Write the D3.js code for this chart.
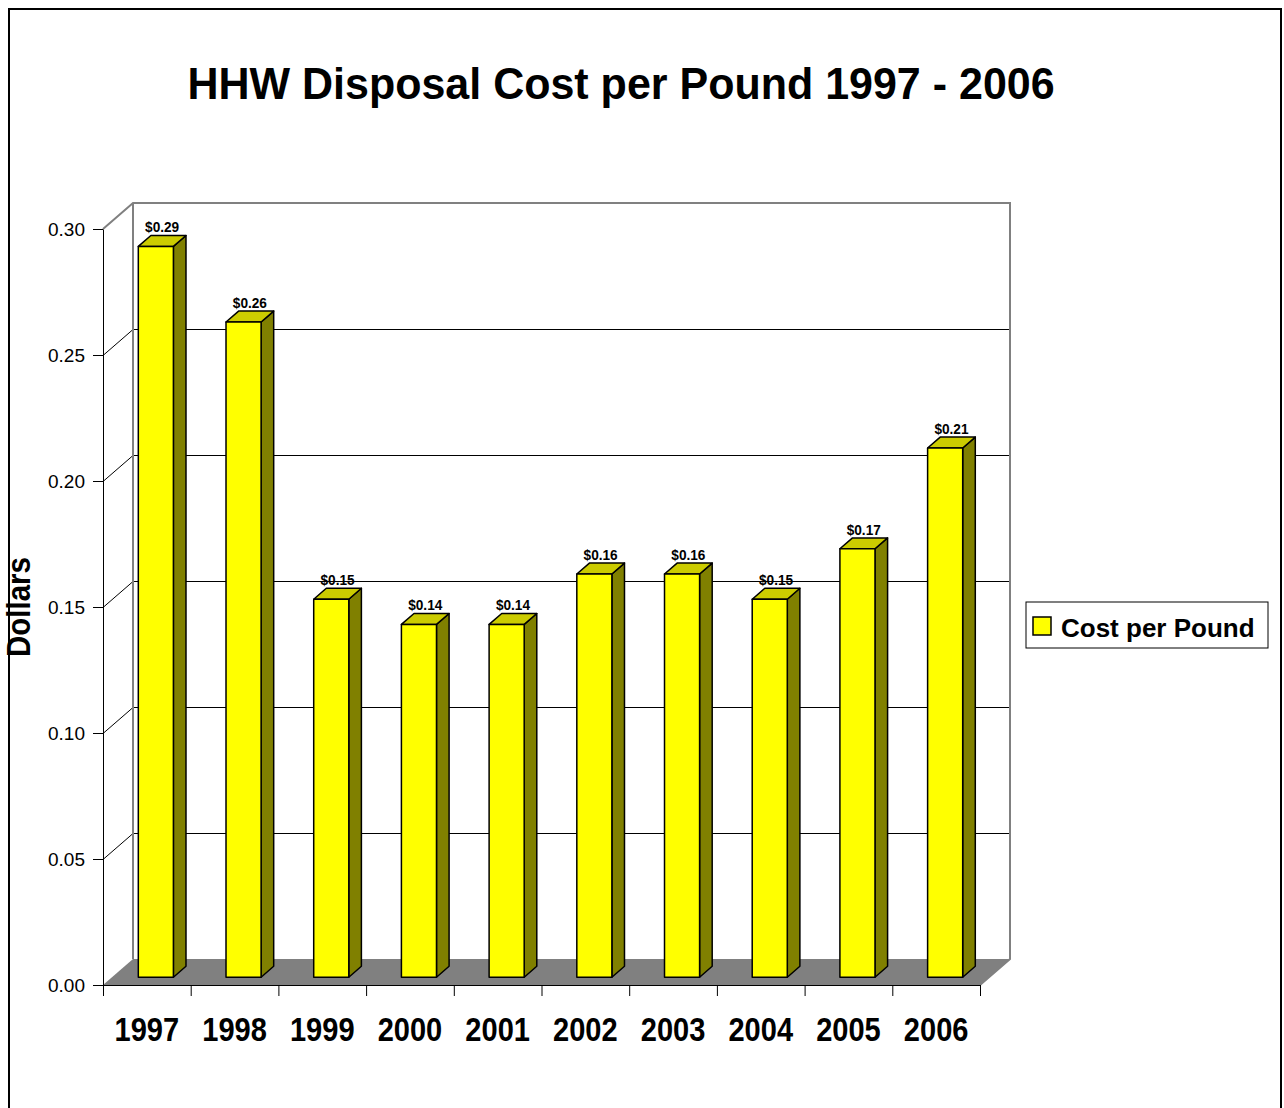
<!DOCTYPE html>
<html>
<head>
<meta charset="utf-8">
<script src="https://cdn.jsdelivr.net/npm/d3@7"></script>
<style>
  body { margin: 0; background: #fff; }
  svg text { font-family: "Liberation Sans", Arial, sans-serif; }
</style>
</head>
<body>
<div id="root"></div>
<script>
const width = 1284;
const height = 1108;

const years = ['1997', '1998', '1999', '2000', '2001', '2002', '2003', '2004', '2005', '2006'];
const costs = [0.29, 0.26, 0.15, 0.14, 0.14, 0.16, 0.16, 0.15, 0.17, 0.21];
const yTicks = [0, 0.05, 0.1, 0.15, 0.2, 0.25, 0.3];

const title = 'HHW Disposal Cost per Pound 1997 - 2006';
const yLabel = 'Dollars';
const seriesName = 'Cost per Pound';

// 3D depth of the plot box
const depth = { dx: 30, dy: -26 };
const barZ0 = 0.3;
const barZ1 = 0.72;

const plot = { left: 103, right: 980, top: 229, bottom: 985 };

const svg = d3
  .select('#root')
  .append('svg')
  .attr('width', width)
  .attr('height', height);

// Chart border
svg
  .append('rect')
  .attr('x', 9)
  .attr('y', 9)
  .attr('width', 1272)
  .attr('height', 1110)
  .attr('fill', 'none')
  .attr('stroke', '#000')
  .attr('stroke-width', 2);

// Title
svg
  .append('text')
  .attr('transform', 'translate(621, 99) scale(1, 1.05)')
  .attr('text-anchor', 'middle')
  .attr('font-size', 43)
  .attr('font-weight', 'bold')
  .text(title);

// Scales

const xScale = d3
  .scaleBand()
  .domain(years)
  .range([plot.left, plot.right]);

const yScale = d3
  .scaleLinear()
  .domain([0, 0.3])
  .range([plot.bottom, plot.top]);

const pt = (x, y, z) => [x + z * depth.dx, y + z * depth.dy];
const poly = (pts) => pts.map((p) => p.join(',')).join(' ');

// Floor

svg
  .append('polygon')
  .attr(
    'points',
    poly([
      pt(plot.left, plot.bottom, 0),
      pt(plot.right, plot.bottom, 0),
      pt(plot.right, plot.bottom, 1),
      pt(plot.left, plot.bottom, 1),
    ])
  )
  .attr('fill', '#808080');

// Gridlines: side wall diagonal + back wall

const grid = svg.append('g').attr('class', 'grid').attr('transform', 'translate(0, 0.5)');

grid
  .selectAll('polyline')
  .data(yTicks.filter((d) => d > 0 && d < 0.3))
  .enter()
  .append('polyline')
  .attr('points', (d) =>
    poly([
      pt(plot.left, yScale(d), 0),
      pt(plot.left, yScale(d), 1),
      pt(plot.right, yScale(d), 1),
    ])
  )
  .attr('fill', 'none')
  .attr('stroke', '#000')
  .attr('stroke-width', 1);

// Wall outline (gray)
svg
  .append('polyline')
  .attr(
    'points',
    poly([
      pt(plot.left, plot.top, 0),
      pt(plot.left, plot.top, 1),
      pt(plot.right, plot.top, 1),
      pt(plot.right, plot.bottom, 1),
      pt(plot.right, plot.bottom, 0),
    ])
  )
  .attr('fill', 'none')
  .attr('stroke', '#808080')
  .attr('stroke-width', 2);

svg
  .append('line')
  .attr('x1', pt(plot.left, plot.top, 1)[0])
  .attr('y1', pt(plot.left, plot.top, 1)[1])
  .attr('x2', pt(plot.left, plot.bottom, 1)[0])
  .attr('y2', pt(plot.left, plot.bottom, 1)[1])
  .attr('stroke', '#808080')
  .attr('stroke-width', 2);

// Bars

const data = years.map((year, i) => ({ year, value: costs[i] }));
const barW = xScale.bandwidth() * 0.4;
const barX = (d) => xScale(d.year) + (xScale.bandwidth() - barW) / 2;

const bars = svg
  .selectAll('g.bar')
  .data(data)
  .enter()
  .append('g')
  .attr('class', 'bar');

bars
  .append('polygon')
  .attr('points', (d) => {
    const x0 = barX(d);
    const x1 = x0 + barW;
    const yt = yScale(d.value);
    const yb = yScale(0);
    return poly([
      pt(x1, yt, barZ0),
      pt(x1, yt, barZ1),
      pt(x1, yb, barZ1),
      pt(x1, yb, barZ0),
    ]);
  })
  .attr('fill', '#808000')
  .attr('stroke', '#000')
  .attr('stroke-width', 1.5)
  .attr('stroke-linejoin', 'round');

bars
  .append('polygon')
  .attr('points', (d) => {
    const x0 = barX(d);
    const x1 = x0 + barW;
    const yt = yScale(d.value);
    return poly([
      pt(x0, yt, barZ0),
      pt(x1, yt, barZ0),
      pt(x1, yt, barZ1),
      pt(x0, yt, barZ1),
    ]);
  })
  .attr('fill', '#cccc00')
  .attr('stroke', '#000')
  .attr('stroke-width', 1.5)
  .attr('stroke-linejoin', 'round');

bars
  .append('polygon')
  .attr('points', (d) => {
    const x0 = barX(d);
    const x1 = x0 + barW;
    const yt = yScale(d.value);
    const yb = yScale(0);
    return poly([
      pt(x0, yt, barZ0),
      pt(x1, yt, barZ0),
      pt(x1, yb, barZ0),
      pt(x0, yb, barZ0),
    ]);
  })
  .attr('fill', '#ffff00')
  .attr('stroke', '#000')
  .attr('stroke-width', 1.5)
  .attr('stroke-linejoin', 'round');

// Data labels (slightly condensed, like the original)
bars
  .append('text')
  .attr('transform', (d) => {
    const cx = pt(barX(d) + barW / 2, 0, (barZ0 + barZ1) / 2)[0];
    const by = pt(0, yScale(d.value), barZ1)[1] - 3;
    return `translate(${cx}, ${by}) scale(0.88, 1)`;
  })
  .attr('text-anchor', 'middle')
  .attr('font-size', 15.5)
  .attr('font-weight', 'bold')
  .text((d) => '$' + d3.format('.2f')(d.value));

// Axes

const yAxis = d3
  .axisLeft(yScale)
  .tickValues(yTicks)
  .tickFormat(d3.format('.2f'))
  .tickSize(10)
  .tickSizeOuter(0)
  .tickPadding(8);

svg
  .append('g')
  .attr('id', 'y-axis')
  .attr('transform', `translate(${plot.left}, 0)`)
  .call(yAxis)
  .call((g) => g.selectAll('text').attr('font-size', 19).attr('font-family', null))
  .call((g) => g.selectAll('line, path').attr('stroke', '#000'));

const tickScale = d3
  .scaleLinear()
  .domain([0, years.length])
  .range([plot.left, plot.right]);

svg
  .append('g')
  .attr('id', 'x-ticks')
  .attr('transform', `translate(0, ${plot.bottom})`)
  .call(
    d3
      .axisBottom(tickScale)
      .tickValues(d3.range(years.length + 1))
      .tickFormat('')
      .tickSize(11)
      .tickSizeOuter(0)
  );

svg
  .append('g')
  .attr('id', 'x-axis')
  .attr('transform', `translate(0, ${plot.bottom})`)
  .call(d3.axisBottom(xScale).tickSize(0).tickPadding(33))
  .call((g) => g.select('.domain').remove())
  .call((g) =>
    g
      .selectAll('text')
      .attr('font-size', 33)
      .attr('font-weight', 'bold')
      .attr('font-family', null)
      .attr('fill', '#000')
      .attr('transform', 'scale(0.88, 1)')
  );

// Y label
svg
  .append('text')
  .attr('transform', 'translate(30, 607) rotate(-90) scale(0.95, 1.05)')
  .attr('text-anchor', 'middle')
  .attr('font-size', 31)
  .attr('font-weight', 'bold')
  .text(yLabel);

// Legend

const legend = svg.append('g').attr('id', 'legend').attr('transform', 'translate(1026, 602)');

legend
  .append('rect')
  .attr('width', 242)
  .attr('height', 46)
  .attr('fill', '#fff')
  .attr('stroke', '#000')
  .attr('stroke-width', 1);

legend
  .append('rect')
  .attr('x', 7)
  .attr('y', 15)
  .attr('width', 18)
  .attr('height', 18)
  .attr('fill', '#ffff00')
  .attr('stroke', '#000')
  .attr('stroke-width', 1.5);

legend
  .append('text')
  .attr('x', 35)
  .attr('y', 35)
  .attr('font-size', 26)
  .attr('font-weight', 'bold')
  .text(seriesName);
</script>
</body>
</html>
